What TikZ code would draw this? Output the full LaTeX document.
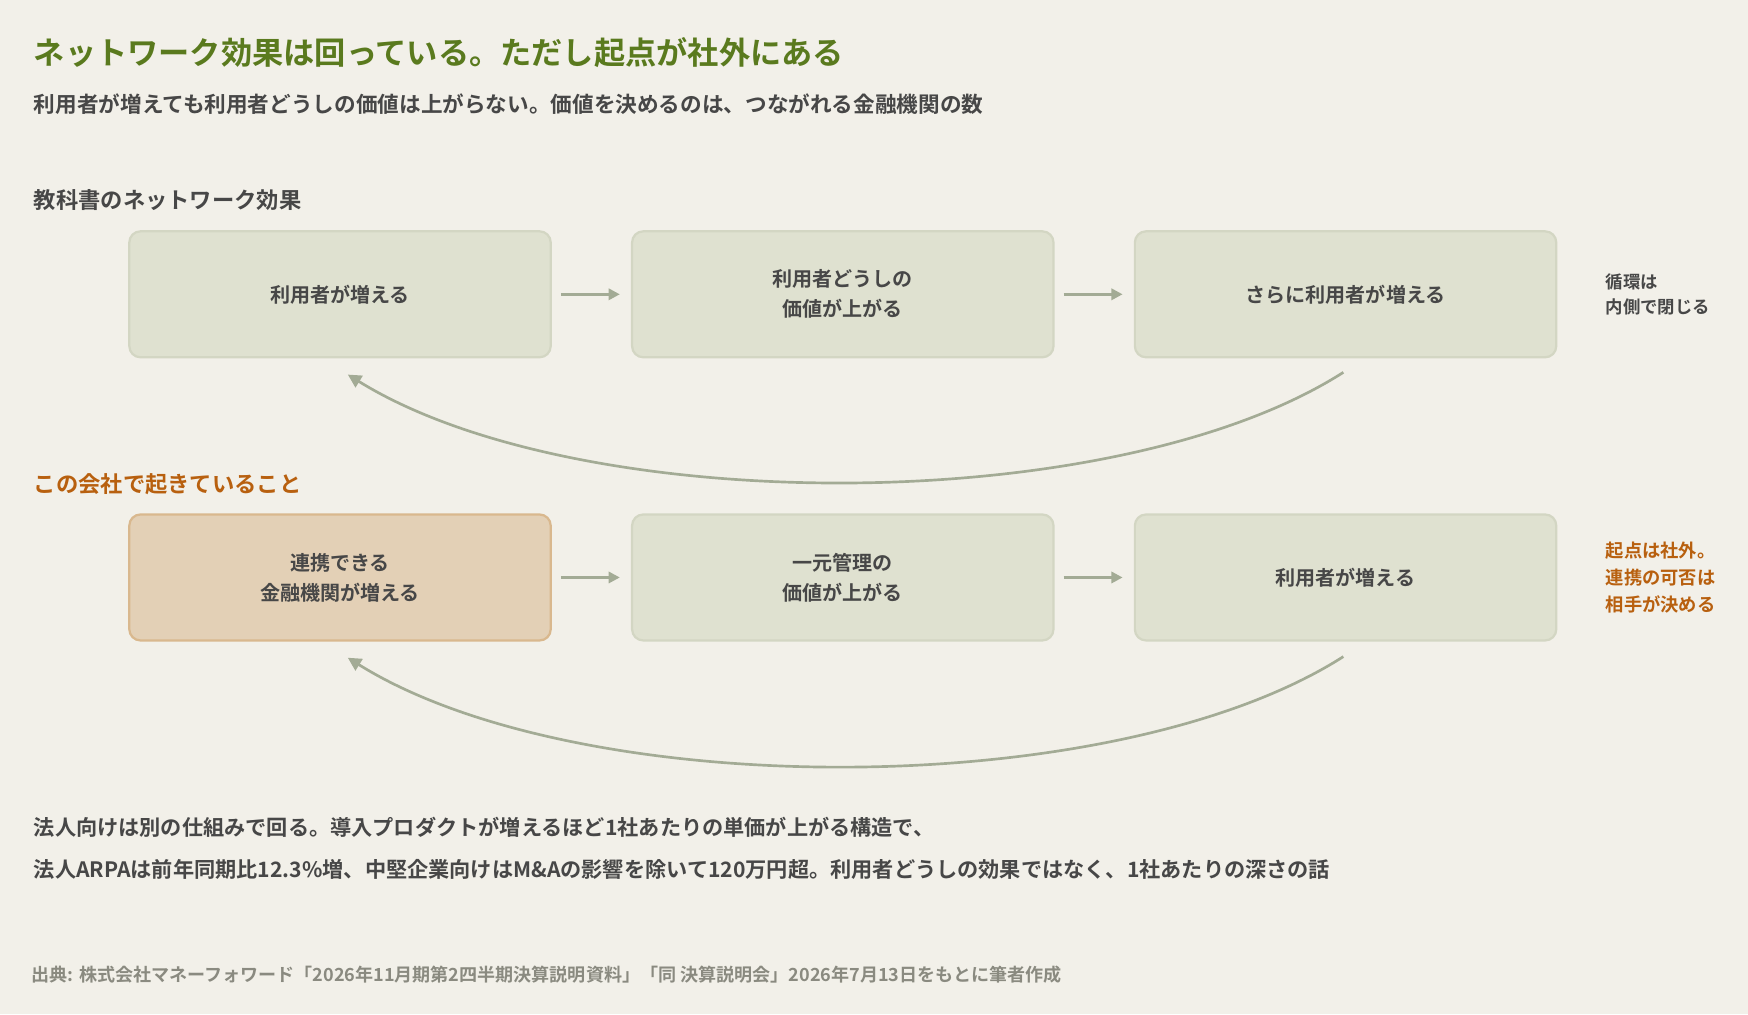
\documentclass[tikz,border=0pt]{standalone}
\usepackage{fontspec}
\setmainfont{Noto Sans CJK JP}[BoldFont={* Bold}]
\usetikzlibrary{arrows.meta,positioning}
\definecolor{bgc}{HTML}{F2F0E9}
\definecolor{titlec}{HTML}{5A7A1E}
\definecolor{textc}{HTML}{474747}
\definecolor{boxc}{HTML}{DFE1D0}
\definecolor{boxline}{HTML}{D3D6C3}
\definecolor{hotc}{HTML}{E3D0B6}
\definecolor{hotline}{HTML}{D9B88E}
\definecolor{arrc}{HTML}{A3AB95}
\definecolor{orangec}{HTML}{B8600F}
\definecolor{notec}{HTML}{8A8A80}
\tikzset{
  flowbox/.style={rectangle, rounded corners=5pt, draw=boxline, line width=1pt, fill=boxc,
    minimum width=189pt, minimum height=56.5pt, align=center, text=textc,
    font=\fontsize{9}{13.5}\selectfont\bfseries},
  hot/.style={flowbox, fill=hotc, draw=hotline},
  arrow/.style={-{Triangle[length=5pt,width=5pt]}, line width=1.2pt, arrc},
  loop/.style={-{Triangle[length=6pt,width=6pt]}, line width=1.2pt, arrc},
  lbl/.style={anchor=west, inner sep=0pt, text=textc, align=left}
}
\begin{document}
\begin{tikzpicture}[x=0.5pt,y=-0.5pt]
\fill[bgc] (0,0) rectangle (1568,910);
\useasboundingbox (0,0) rectangle (1568,910);

\node[lbl, text=titlec, font=\fontsize{14}{16}\selectfont\bfseries] (title) at (30,47) {ネットワーク効果は回っている。ただし起点が社外にある};
\node[lbl, font=\fontsize{9.7}{11}\selectfont\bfseries] (sub) at (30,93) {利用者が増えても利用者どうしの価値は上がらない。価値を決めるのは、つながれる金融機関の数};

% textbook
\node[lbl, font=\fontsize{10}{12}\selectfont\bfseries] (sec1) at (30,179) {教科書のネットワーク効果};
\node[flowbox] (a1) at (305,264) {利用者が増える};
\node[flowbox] (a2) at (756,264) {利用者どうしの\\価値が上がる};
\node[flowbox] (a3) at (1207,264) {さらに利用者が増える};
\draw[arrow] ([xshift=4]a1.east) -- ([xshift=-5]a2.west);
\draw[arrow] ([xshift=4]a2.east) -- ([xshift=-5]a3.west);
\coordinate (c1s) at (1205,334);
\coordinate (c1e) at (312,336);
\draw[loop] (c1s) .. controls (1000,465) and (520,465) .. (c1e);
\node[lbl, font=\fontsize{7.8}{11.5}\selectfont\bfseries] (n1) at (1440,264) {循環は\\内側で閉じる};

% company
\node[lbl, text=orangec, font=\fontsize{10}{12}\selectfont\bfseries] (sec2) at (30,434) {この会社で起きていること};
\node[hot] (b1) at (305,518) {連携できる\\金融機関が増える};
\node[flowbox] (b2) at (756,518) {一元管理の\\価値が上がる};
\node[flowbox] (b3) at (1207,518) {利用者が増える};
\draw[arrow] ([xshift=4]b1.east) -- ([xshift=-5]b2.west);
\draw[arrow] ([xshift=4]b2.east) -- ([xshift=-5]b3.west);
\coordinate (c2s) at (1205,589);
\coordinate (c2e) at (312,590);
\draw[loop] (c2s) .. controls (1000,720) and (520,720) .. (c2e);
\node[lbl, text=orangec, font=\fontsize{8.2}{12}\selectfont\bfseries] (n2) at (1440,518) {起点は社外。\\連携の可否は\\相手が決める};

% bottom
\node[lbl, font=\fontsize{9.5}{11}\selectfont\bfseries] (p1) at (30,742) {法人向けは別の仕組みで回る。導入プロダクトが増えるほど1社あたりの単価が上がる構造で、};
\node[lbl, font=\fontsize{9.5}{11}\selectfont\bfseries] (p2) at (30,780) {法人ARPAは前年同期比12.3\%増、中堅企業向けはM\&Aの影響を除いて120万円超。利用者どうしの効果ではなく、1社あたりの深さの話};
\node[lbl, text=notec, font=\fontsize{8.1}{9}\selectfont\bfseries] (src) at (28,874) {出典: 株式会社マネーフォワード「2026年11月期第2四半期決算説明資料」「同 決算説明会」2026年7月13日をもとに筆者作成};
\end{tikzpicture}
\end{document}
